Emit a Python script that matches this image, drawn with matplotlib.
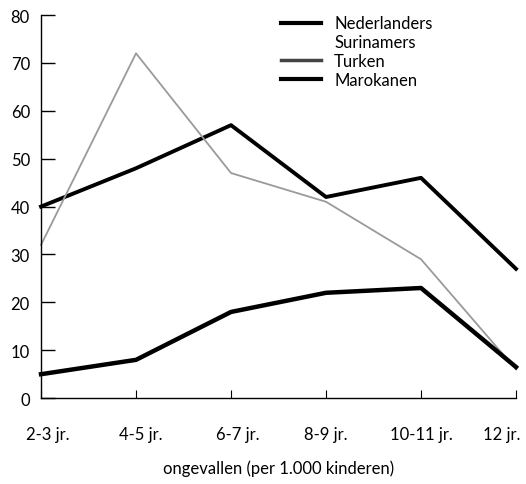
import matplotlib.pyplot as plt
import matplotlib.transforms as mtransforms
from matplotlib.lines import Line2D

# ==============================
# Data
# ==============================

leeftijden = ["2-3 jr.", "4-5 jr.", "6-7 jr.", "8-9 jr.", "10-11 jr.", "12 jr."]
nederlanders = [40, 48, 57, 42, 46, 27]
turken = [32, 72, 47, 41, 29, 6]
marokanen = [5, 8, 18, 22, 23, 6.5]
y_ticks = [0, 10, 20, 30, 40, 50, 60, 70, 80]

plt.rcParams["font.family"] = ["Lato", "DejaVu Sans"]
FS = 12

fig = plt.figure(figsize=(5.26, 4.85), dpi=100)
ax = fig.add_axes([0.078, 0.177, 0.903, 0.79])

x = list(range(len(leeftijden)))
ax.plot(x, nederlanders, color="black", linewidth=2.8, clip_on=False)
ax.plot(x, turken, color="#9a9a9a", linewidth=1.3, clip_on=False)
ax.plot(x, marokanen, color="black", linewidth=3.2, clip_on=False,
        solid_joinstyle="round")

ax.set_xlim(0, len(leeftijden) - 1)
ax.set_ylim(0, 80)
ax.set_xticks(x)
ax.set_xticklabels(leeftijden)
ax.set_yticks(y_ticks)

for side in ["top", "right"]:
    ax.spines[side].set_visible(False)
ax.spines["left"].set_linewidth(1.0)
ax.spines["bottom"].set_linewidth(1.0)

ax.tick_params(axis="y", direction="in", length=10, width=1.0, pad=8,
               labelsize=FS)
ax.tick_params(axis="x", direction="in", length=6, width=0.8, pad=20,
               labelsize=FS)

# small shifts of the x labels as in the original print
shifts = [7, 5, 7, 0, 0, -14]
for lab, dx in zip(ax.get_xticklabels(), shifts):
    lab.set_transform(lab.get_transform() +
                      mtransforms.ScaledTranslation(dx / 100, 0, fig.dpi_scale_trans))

ax.set_xlabel("ongevallen (per 1.000 kinderen)", fontsize=FS, labelpad=12.5)

# Legend (Surinamers has no visible line in the reference)
handles = [
    Line2D([], [], color="black", linewidth=3),
    Line2D([], [], color="none", linewidth=3),
    Line2D([], [], color="#444444", linewidth=2.5),
    Line2D([], [], color="black", linewidth=3),
]
labels = ["Nederlanders", "Surinamers", "Turken", "Marokanen"]
ax.legend(handles, labels, loc="upper left", bbox_to_anchor=(0.505, 0.999),
          frameon=False, fontsize=FS, handlelength=2.4, handletextpad=0.8,
          labelspacing=0.17, borderpad=0, borderaxespad=0)

fig.savefig("out.png", dpi=100)
